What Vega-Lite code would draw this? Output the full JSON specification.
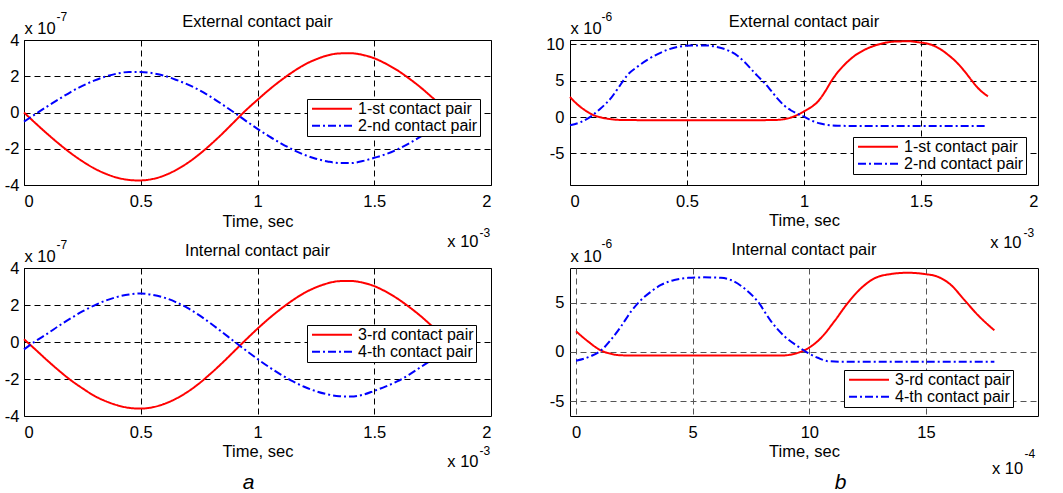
{
"$schema": "https://vega.github.io/schema/vega-lite/v6.json",
"padding": {"left": 3, "top": 9, "right": 0, "bottom": 0},
"background": "#ffffff",
"config": {
 "font": "Liberation Sans",
 "view": {"stroke": "#000", "strokeWidth": 1},
 "axis": {"domain": false, "ticks": false, "labelFontSize": 16.5, "titleFontSize": 16.5, "titleFontWeight": "normal", "labelColor": "#000", "titleColor": "#000", "gridColor": "#000", "gridDash": [6, 4], "gridWidth": 1, "gridOpacity": 1, "labelFont": "Liberation Sans", "titleFont": "Liberation Sans"},
 "title": {"fontSize": 16.5, "fontWeight": "normal", "color": "#000", "font": "Liberation Sans", "frame": "group", "baseline": "alphabetic", "offset": -20.5},
 "legend": {"padding": 2, "strokeColor": "#000", "fillColor": "#fff", "symbolType": "stroke", "symbolSize": 1600, "symbolStrokeWidth": 2, "labelFontSize": 16, "labelOffset": 5, "rowPadding": 0, "clipHeight": 15.5, "labelLimit": 300, "symbolOffset": 2, "labelColor": "#000", "labelFont": "Liberation Sans", "cornerRadius": 0}
},
"datasets": {
 "ea": [
  {"t":0,"v":0,"s":"1-st contact pair"},{"t":0.05,"v":-0.6,"s":"1-st contact pair"},{"t":0.1,"v":-1.18,"s":"1-st contact pair"},{"t":0.15,"v":-1.73,"s":"1-st contact pair"},{"t":0.2,"v":-2.24,"s":"1-st contact pair"},{"t":0.25,"v":-2.69,"s":"1-st contact pair"},{"t":0.3,"v":-3.08,"s":"1-st contact pair"},{"t":0.35,"v":-3.38,"s":"1-st contact pair"},{"t":0.4,"v":-3.6,"s":"1-st contact pair"},{"t":0.45,"v":-3.72,"s":"1-st contact pair"},{"t":0.49,"v":-3.75,"s":"1-st contact pair"},{"t":0.55,"v":-3.67,"s":"1-st contact pair"},{"t":0.6,"v":-3.48,"s":"1-st contact pair"},{"t":0.65,"v":-3.18,"s":"1-st contact pair"},{"t":0.7,"v":-2.79,"s":"1-st contact pair"},{"t":0.75,"v":-2.31,"s":"1-st contact pair"},{"t":0.8,"v":-1.76,"s":"1-st contact pair"},{"t":0.85,"v":-1.16,"s":"1-st contact pair"},{"t":0.9,"v":-0.52,"s":"1-st contact pair"},{"t":0.95,"v":0.12,"s":"1-st contact pair"},{"t":1.0,"v":0.7,"s":"1-st contact pair"},{"t":1.05,"v":1.26,"s":"1-st contact pair"},{"t":1.1,"v":1.77,"s":"1-st contact pair"},{"t":1.15,"v":2.23,"s":"1-st contact pair"},{"t":1.2,"v":2.63,"s":"1-st contact pair"},{"t":1.25,"v":2.93,"s":"1-st contact pair"},{"t":1.3,"v":3.15,"s":"1-st contact pair"},{"t":1.35,"v":3.26,"s":"1-st contact pair"},{"t":1.4,"v":3.27,"s":"1-st contact pair"},{"t":1.45,"v":3.18,"s":"1-st contact pair"},{"t":1.5,"v":2.99,"s":"1-st contact pair"},{"t":1.55,"v":2.69,"s":"1-st contact pair"},{"t":1.6,"v":2.32,"s":"1-st contact pair"},{"t":1.65,"v":1.87,"s":"1-st contact pair"},{"t":1.7,"v":1.37,"s":"1-st contact pair"},{"t":1.75,"v":0.81,"s":"1-st contact pair"},{"t":1.78,"v":0.47,"s":"1-st contact pair"},
  {"t":0,"v":-0.5,"s":"2-nd contact pair"},{"t":0.05,"v":-0.08,"s":"2-nd contact pair"},{"t":0.1,"v":0.34,"s":"2-nd contact pair"},{"t":0.15,"v":0.74,"s":"2-nd contact pair"},{"t":0.2,"v":1.13,"s":"2-nd contact pair"},{"t":0.25,"v":1.47,"s":"2-nd contact pair"},{"t":0.3,"v":1.76,"s":"2-nd contact pair"},{"t":0.35,"v":1.99,"s":"2-nd contact pair"},{"t":0.4,"v":2.15,"s":"2-nd contact pair"},{"t":0.45,"v":2.24,"s":"2-nd contact pair"},{"t":0.5,"v":2.24,"s":"2-nd contact pair"},{"t":0.55,"v":2.17,"s":"2-nd contact pair"},{"t":0.6,"v":2.03,"s":"2-nd contact pair"},{"t":0.65,"v":1.81,"s":"2-nd contact pair"},{"t":0.7,"v":1.55,"s":"2-nd contact pair"},{"t":0.75,"v":1.24,"s":"2-nd contact pair"},{"t":0.8,"v":0.86,"s":"2-nd contact pair"},{"t":0.85,"v":0.44,"s":"2-nd contact pair"},{"t":0.9,"v":0.0,"s":"2-nd contact pair"},{"t":0.95,"v":-0.46,"s":"2-nd contact pair"},{"t":1.0,"v":-0.9,"s":"2-nd contact pair"},{"t":1.05,"v":-1.32,"s":"2-nd contact pair"},{"t":1.1,"v":-1.7,"s":"2-nd contact pair"},{"t":1.15,"v":-2.04,"s":"2-nd contact pair"},{"t":1.2,"v":-2.33,"s":"2-nd contact pair"},{"t":1.25,"v":-2.55,"s":"2-nd contact pair"},{"t":1.3,"v":-2.7,"s":"2-nd contact pair"},{"t":1.35,"v":-2.79,"s":"2-nd contact pair"},{"t":1.4,"v":-2.79,"s":"2-nd contact pair"},{"t":1.45,"v":-2.68,"s":"2-nd contact pair"},{"t":1.5,"v":-2.5,"s":"2-nd contact pair"},{"t":1.55,"v":-2.3,"s":"2-nd contact pair"},{"t":1.6,"v":-2.03,"s":"2-nd contact pair"},{"t":1.65,"v":-1.7,"s":"2-nd contact pair"},{"t":1.7,"v":-1.32,"s":"2-nd contact pair"},{"t":1.75,"v":-0.92,"s":"2-nd contact pair"},{"t":1.78,"v":-0.68,"s":"2-nd contact pair"}
 ],
 "ia": [
  {"t":0,"v":0.15,"s":"3-rd contact pair"},{"t":0.05,"v":-0.42,"s":"3-rd contact pair"},{"t":0.1,"v":-1.0,"s":"3-rd contact pair"},{"t":0.15,"v":-1.55,"s":"3-rd contact pair"},{"t":0.2,"v":-2.06,"s":"3-rd contact pair"},{"t":0.25,"v":-2.5,"s":"3-rd contact pair"},{"t":0.3,"v":-2.9,"s":"3-rd contact pair"},{"t":0.35,"v":-3.2,"s":"3-rd contact pair"},{"t":0.4,"v":-3.42,"s":"3-rd contact pair"},{"t":0.45,"v":-3.56,"s":"3-rd contact pair"},{"t":0.5,"v":-3.6,"s":"3-rd contact pair"},{"t":0.55,"v":-3.53,"s":"3-rd contact pair"},{"t":0.6,"v":-3.35,"s":"3-rd contact pair"},{"t":0.65,"v":-3.07,"s":"3-rd contact pair"},{"t":0.7,"v":-2.7,"s":"3-rd contact pair"},{"t":0.75,"v":-2.24,"s":"3-rd contact pair"},{"t":0.8,"v":-1.7,"s":"3-rd contact pair"},{"t":0.85,"v":-1.12,"s":"3-rd contact pair"},{"t":0.9,"v":-0.5,"s":"3-rd contact pair"},{"t":0.95,"v":0.12,"s":"3-rd contact pair"},{"t":1.0,"v":0.72,"s":"3-rd contact pair"},{"t":1.05,"v":1.28,"s":"3-rd contact pair"},{"t":1.1,"v":1.79,"s":"3-rd contact pair"},{"t":1.15,"v":2.25,"s":"3-rd contact pair"},{"t":1.2,"v":2.65,"s":"3-rd contact pair"},{"t":1.25,"v":2.95,"s":"3-rd contact pair"},{"t":1.3,"v":3.17,"s":"3-rd contact pair"},{"t":1.35,"v":3.29,"s":"3-rd contact pair"},{"t":1.4,"v":3.3,"s":"3-rd contact pair"},{"t":1.45,"v":3.21,"s":"3-rd contact pair"},{"t":1.5,"v":3.02,"s":"3-rd contact pair"},{"t":1.55,"v":2.72,"s":"3-rd contact pair"},{"t":1.6,"v":2.34,"s":"3-rd contact pair"},{"t":1.65,"v":1.89,"s":"3-rd contact pair"},{"t":1.7,"v":1.39,"s":"3-rd contact pair"},{"t":1.75,"v":0.83,"s":"3-rd contact pair"},{"t":1.78,"v":0.5,"s":"3-rd contact pair"},
  {"t":0,"v":-0.4,"s":"4-th contact pair"},{"t":0.05,"v":0.05,"s":"4-th contact pair"},{"t":0.1,"v":0.45,"s":"4-th contact pair"},{"t":0.15,"v":0.88,"s":"4-th contact pair"},{"t":0.2,"v":1.28,"s":"4-th contact pair"},{"t":0.25,"v":1.65,"s":"4-th contact pair"},{"t":0.3,"v":1.97,"s":"4-th contact pair"},{"t":0.35,"v":2.24,"s":"4-th contact pair"},{"t":0.4,"v":2.44,"s":"4-th contact pair"},{"t":0.45,"v":2.57,"s":"4-th contact pair"},{"t":0.5,"v":2.62,"s":"4-th contact pair"},{"t":0.55,"v":2.55,"s":"4-th contact pair"},{"t":0.6,"v":2.4,"s":"4-th contact pair"},{"t":0.65,"v":2.16,"s":"4-th contact pair"},{"t":0.7,"v":1.84,"s":"4-th contact pair"},{"t":0.75,"v":1.45,"s":"4-th contact pair"},{"t":0.8,"v":1.0,"s":"4-th contact pair"},{"t":0.85,"v":0.52,"s":"4-th contact pair"},{"t":0.9,"v":0.03,"s":"4-th contact pair"},{"t":0.95,"v":-0.45,"s":"4-th contact pair"},{"t":1.0,"v":-0.92,"s":"4-th contact pair"},{"t":1.05,"v":-1.36,"s":"4-th contact pair"},{"t":1.1,"v":-1.76,"s":"4-th contact pair"},{"t":1.15,"v":-2.12,"s":"4-th contact pair"},{"t":1.2,"v":-2.42,"s":"4-th contact pair"},{"t":1.25,"v":-2.66,"s":"4-th contact pair"},{"t":1.3,"v":-2.83,"s":"4-th contact pair"},{"t":1.35,"v":-2.93,"s":"4-th contact pair"},{"t":1.4,"v":-2.95,"s":"4-th contact pair"},{"t":1.45,"v":-2.86,"s":"4-th contact pair"},{"t":1.5,"v":-2.64,"s":"4-th contact pair"},{"t":1.55,"v":-2.4,"s":"4-th contact pair"},{"t":1.6,"v":-2.12,"s":"4-th contact pair"},{"t":1.65,"v":-1.76,"s":"4-th contact pair"},{"t":1.7,"v":-1.35,"s":"4-th contact pair"},{"t":1.75,"v":-0.94,"s":"4-th contact pair"},{"t":1.78,"v":-0.7,"s":"4-th contact pair"}
 ],
 "eb": [
  {"t":0,"v":2.75,"s":"1-st contact pair"},{"t":0.033,"v":1.7,"s":"1-st contact pair"},{"t":0.061,"v":1.01,"s":"1-st contact pair"},{"t":0.09,"v":0.42,"s":"1-st contact pair"},{"t":0.125,"v":0.0,"s":"1-st contact pair"},{"t":0.161,"v":-0.23,"s":"1-st contact pair"},{"t":0.197,"v":-0.37,"s":"1-st contact pair"},{"t":0.25,"v":-0.42,"s":"1-st contact pair"},{"t":0.4,"v":-0.43,"s":"1-st contact pair"},{"t":0.6,"v":-0.43,"s":"1-st contact pair"},{"t":0.8,"v":-0.43,"s":"1-st contact pair"},{"t":0.88,"v":-0.4,"s":"1-st contact pair"},{"t":0.93,"v":-0.2,"s":"1-st contact pair"},{"t":0.96,"v":0.12,"s":"1-st contact pair"},{"t":1.0,"v":0.78,"s":"1-st contact pair"},{"t":1.03,"v":1.35,"s":"1-st contact pair"},{"t":1.06,"v":2.16,"s":"1-st contact pair"},{"t":1.09,"v":3.5,"s":"1-st contact pair"},{"t":1.116,"v":4.9,"s":"1-st contact pair"},{"t":1.145,"v":6.2,"s":"1-st contact pair"},{"t":1.173,"v":7.2,"s":"1-st contact pair"},{"t":1.215,"v":8.4,"s":"1-st contact pair"},{"t":1.26,"v":9.27,"s":"1-st contact pair"},{"t":1.3,"v":9.8,"s":"1-st contact pair"},{"t":1.344,"v":10.2,"s":"1-st contact pair"},{"t":1.4,"v":10.4,"s":"1-st contact pair"},{"t":1.45,"v":10.42,"s":"1-st contact pair"},{"t":1.487,"v":10.3,"s":"1-st contact pair"},{"t":1.544,"v":9.95,"s":"1-st contact pair"},{"t":1.58,"v":9.4,"s":"1-st contact pair"},{"t":1.615,"v":8.58,"s":"1-st contact pair"},{"t":1.65,"v":7.6,"s":"1-st contact pair"},{"t":1.686,"v":6.3,"s":"1-st contact pair"},{"t":1.715,"v":5.1,"s":"1-st contact pair"},{"t":1.743,"v":4.0,"s":"1-st contact pair"},{"t":1.786,"v":2.85,"s":"1-st contact pair"},
  {"t":0,"v":-1.14,"s":"2-nd contact pair"},{"t":0.047,"v":-0.68,"s":"2-nd contact pair"},{"t":0.09,"v":0.1,"s":"2-nd contact pair"},{"t":0.133,"v":1.24,"s":"2-nd contact pair"},{"t":0.175,"v":2.61,"s":"2-nd contact pair"},{"t":0.211,"v":4.22,"s":"2-nd contact pair"},{"t":0.247,"v":5.83,"s":"2-nd contact pair"},{"t":0.29,"v":6.97,"s":"2-nd contact pair"},{"t":0.332,"v":7.9,"s":"2-nd contact pair"},{"t":0.375,"v":8.67,"s":"2-nd contact pair"},{"t":0.418,"v":9.27,"s":"2-nd contact pair"},{"t":0.468,"v":9.7,"s":"2-nd contact pair"},{"t":0.52,"v":9.85,"s":"2-nd contact pair"},{"t":0.58,"v":9.85,"s":"2-nd contact pair"},{"t":0.62,"v":9.7,"s":"2-nd contact pair"},{"t":0.646,"v":9.5,"s":"2-nd contact pair"},{"t":0.68,"v":9.1,"s":"2-nd contact pair"},{"t":0.717,"v":8.4,"s":"2-nd contact pair"},{"t":0.745,"v":7.6,"s":"2-nd contact pair"},{"t":0.774,"v":6.6,"s":"2-nd contact pair"},{"t":0.8,"v":5.7,"s":"2-nd contact pair"},{"t":0.831,"v":4.7,"s":"2-nd contact pair"},{"t":0.86,"v":3.6,"s":"2-nd contact pair"},{"t":0.888,"v":2.5,"s":"2-nd contact pair"},{"t":0.915,"v":1.6,"s":"2-nd contact pair"},{"t":0.945,"v":0.9,"s":"2-nd contact pair"},{"t":0.975,"v":0.4,"s":"2-nd contact pair"},{"t":1.0,"v":0.05,"s":"2-nd contact pair"},{"t":1.02,"v":-0.3,"s":"2-nd contact pair"},{"t":1.045,"v":-0.65,"s":"2-nd contact pair"},{"t":1.07,"v":-0.9,"s":"2-nd contact pair"},{"t":1.1,"v":-1.1,"s":"2-nd contact pair"},{"t":1.145,"v":-1.2,"s":"2-nd contact pair"},{"t":1.2,"v":-1.22,"s":"2-nd contact pair"},{"t":1.4,"v":-1.22,"s":"2-nd contact pair"},{"t":1.6,"v":-1.22,"s":"2-nd contact pair"},{"t":1.78,"v":-1.22,"s":"2-nd contact pair"}
 ],
 "ib": [
  {"t":0,"v":2.08,"s":"3-rd contact pair"},{"t":0.5,"v":1.08,"s":"3-rd contact pair"},{"t":1.07,"v":0.14,"s":"3-rd contact pair"},{"t":1.5,"v":-0.2,"s":"3-rd contact pair"},{"t":1.8,"v":-0.33,"s":"3-rd contact pair"},{"t":2.5,"v":-0.38,"s":"3-rd contact pair"},{"t":5,"v":-0.38,"s":"3-rd contact pair"},{"t":8,"v":-0.38,"s":"3-rd contact pair"},{"t":8.9,"v":-0.36,"s":"3-rd contact pair"},{"t":9.5,"v":-0.1,"s":"3-rd contact pair"},{"t":9.93,"v":0.34,"s":"3-rd contact pair"},{"t":10.5,"v":1.41,"s":"3-rd contact pair"},{"t":11.07,"v":3.09,"s":"3-rd contact pair"},{"t":11.64,"v":4.93,"s":"3-rd contact pair"},{"t":12.21,"v":6.44,"s":"3-rd contact pair"},{"t":12.79,"v":7.45,"s":"3-rd contact pair"},{"t":13.5,"v":7.89,"s":"3-rd contact pair"},{"t":14.21,"v":8.02,"s":"3-rd contact pair"},{"t":14.93,"v":7.89,"s":"3-rd contact pair"},{"t":15.5,"v":7.62,"s":"3-rd contact pair"},{"t":16.07,"v":6.78,"s":"3-rd contact pair"},{"t":16.64,"v":5.27,"s":"3-rd contact pair"},{"t":17.21,"v":3.76,"s":"3-rd contact pair"},{"t":17.93,"v":2.18,"s":"3-rd contact pair"},
  {"t":0,"v":-0.9,"s":"4-th contact pair"},{"t":0.64,"v":-0.43,"s":"4-th contact pair"},{"t":1.07,"v":0.14,"s":"4-th contact pair"},{"t":1.5,"v":1.25,"s":"4-th contact pair"},{"t":1.93,"v":2.59,"s":"4-th contact pair"},{"t":2.36,"v":4.1,"s":"4-th contact pair"},{"t":2.79,"v":5.27,"s":"4-th contact pair"},{"t":3.21,"v":6.1,"s":"4-th contact pair"},{"t":3.64,"v":6.78,"s":"4-th contact pair"},{"t":4.21,"v":7.28,"s":"4-th contact pair"},{"t":4.8,"v":7.5,"s":"4-th contact pair"},{"t":5.5,"v":7.55,"s":"4-th contact pair"},{"t":6.21,"v":7.5,"s":"4-th contact pair"},{"t":6.64,"v":7.28,"s":"4-th contact pair"},{"t":7.21,"v":6.44,"s":"4-th contact pair"},{"t":7.79,"v":5.1,"s":"4-th contact pair"},{"t":8.36,"v":3.09,"s":"4-th contact pair"},{"t":8.93,"v":1.58,"s":"4-th contact pair"},{"t":9.5,"v":0.57,"s":"4-th contact pair"},{"t":9.93,"v":-0.1,"s":"4-th contact pair"},{"t":10.36,"v":-0.6,"s":"4-th contact pair"},{"t":10.79,"v":-0.94,"s":"4-th contact pair"},{"t":11.5,"v":-1.0,"s":"4-th contact pair"},{"t":14,"v":-1.0,"s":"4-th contact pair"},{"t":17.93,"v":-1.0,"s":"4-th contact pair"}
 ]
},
"bounds": "flush",
"columns": 2,
"spacing": {"row": 83, "column": 79},
"resolve": {"scale": {"color": "independent", "strokeDash": "independent"}, "legend": {"color": "independent", "strokeDash": "independent"}},
"concat": [
   {
    "width": 467, "height": 145,
    "data": {"name": "ea"},
    "title": {"text": "External contact pair"},
    "resolve": {"axis": {"x": "independent", "y": "independent"}},
    "layer": [
     {
      "mark": {"type": "line", "strokeWidth": 2, "interpolate": "monotone"},
      "encoding": {
       "x": {"field": "t", "type": "quantitative", "scale": {"domain": [0, 2], "nice": false, "zero": false}, "axis": {"values": [0, 0.5, 1, 1.5, 2], "labelExpr": "'' + datum.value", "labelPadding": 8, "grid": true, "title": "Time, sec", "titleY": 41, "titleBaseline": "alphabetic"}},
       "y": {"field": "v", "type": "quantitative", "scale": {"domain": [-4, 4], "nice": false, "zero": false}, "axis": {"values": [-4, -2, 0, 2, 4], "labelExpr": "'' + datum.value", "labelPadding": 5, "grid": true, "title": "x 10", "titleAngle": 0, "titleX": 0, "titleY": -6.5, "titleAlign": "left", "titleBaseline": "alphabetic"}},
       "color": {"field": "s", "type": "nominal", "scale": {"domain": ["1-st contact pair", "2-nd contact pair"], "range": ["#ff0000", "#0000ff"]}, "legend": {"orient": "none", "legendX": 283, "legendY": 59, "title": null}},
       "strokeDash": {"field": "s", "type": "nominal", "scale": {"domain": ["1-st contact pair", "2-nd contact pair"], "range": [[1, 0], [8, 3, 2, 3]]}, "legend": {"orient": "none", "legendX": 283, "legendY": 59, "title": null}}
      }
     },
     {
      "mark": {"type": "point", "opacity": 0},
      "encoding": {
       "x": {"field": "t", "type": "quantitative", "scale": {"domain": [0, 2], "nice": false, "zero": false}, "axis": {"orient": "bottom", "labels": false, "grid": false, "title": "x 10", "titleX": 454, "titleY": 61, "titleAlign": "right", "titleBaseline": "alphabetic"}},
       "y": {"field": "v", "type": "quantitative", "scale": {"domain": [-4, 4], "nice": false, "zero": false}, "axis": {"orient": "left", "labels": false, "grid": false, "title": "-7", "titleAngle": 0, "titleX": 32, "titleY": -20, "titleAlign": "left", "titleBaseline": "alphabetic", "titleFontSize": 12}}
      }
     },
     {
      "mark": {"type": "point", "opacity": 0},
      "encoding": {
       "x": {"field": "t", "type": "quantitative", "scale": {"domain": [0, 2], "nice": false, "zero": false}, "axis": {"orient": "bottom", "labels": false, "grid": false, "title": "-3", "titleX": 455, "titleY": 51, "titleAlign": "left", "titleBaseline": "alphabetic", "titleFontSize": 12}},
       "y": {"field": "v", "type": "quantitative", "scale": {"domain": [-4, 4], "nice": false, "zero": false}, "axis": null}
      }
     }
    ]
   },
   {
    "width": 468, "height": 145,
    "data": {"name": "eb"},
    "title": {"text": "External contact pair"},
    "resolve": {"axis": {"x": "independent", "y": "independent"}},
    "layer": [
     {
      "mark": {"type": "line", "strokeWidth": 2, "interpolate": "monotone"},
      "encoding": {
       "x": {"field": "t", "type": "quantitative", "scale": {"domain": [0, 2], "nice": false, "zero": false}, "axis": {"values": [0, 0.5, 1, 1.5, 2], "labelExpr": "'' + datum.value", "labelPadding": 8, "grid": true, "title": "Time, sec", "titleY": 40, "titleBaseline": "alphabetic"}},
       "y": {"field": "v", "type": "quantitative", "scale": {"domain": [-9.35, 10.6], "nice": false, "zero": false}, "axis": {"values": [-5, 0, 5, 10], "labelExpr": "'' + datum.value", "labelPadding": 6, "grid": true, "title": "x 10", "titleAngle": 0, "titleX": 0, "titleY": -7, "titleAlign": "left", "titleBaseline": "alphabetic"}},
       "color": {"field": "s", "type": "nominal", "scale": {"domain": ["1-st contact pair", "2-nd contact pair"], "range": ["#ff0000", "#0000ff"]}, "legend": {"orient": "none", "legendX": 283, "legendY": 97, "title": null}},
       "strokeDash": {"field": "s", "type": "nominal", "scale": {"domain": ["1-st contact pair", "2-nd contact pair"], "range": [[1, 0], [8, 3, 2, 3]]}, "legend": {"orient": "none", "legendX": 283, "legendY": 97, "title": null}}
      }
     },
     {
      "mark": {"type": "point", "opacity": 0},
      "encoding": {
       "x": {"field": "t", "type": "quantitative", "scale": {"domain": [0, 2], "nice": false, "zero": false}, "axis": {"orient": "bottom", "labels": false, "grid": false, "title": "x 10", "titleX": 451, "titleY": 62, "titleAlign": "right", "titleBaseline": "alphabetic"}},
       "y": {"field": "v", "type": "quantitative", "scale": {"domain": [-9.35, 10.6], "nice": false, "zero": false}, "axis": {"orient": "left", "labels": false, "grid": false, "title": "-6", "titleAngle": 0, "titleX": 31, "titleY": -20, "titleAlign": "left", "titleBaseline": "alphabetic", "titleFontSize": 12}}
      }
     },
     {
      "mark": {"type": "point", "opacity": 0},
      "encoding": {
       "x": {"field": "t", "type": "quantitative", "scale": {"domain": [0, 2], "nice": false, "zero": false}, "axis": {"orient": "bottom", "labels": false, "grid": false, "title": "-3", "titleX": 453, "titleY": 51, "titleAlign": "left", "titleBaseline": "alphabetic", "titleFontSize": 12}},
       "y": {"field": "v", "type": "quantitative", "scale": {"domain": [-9.35, 10.6], "nice": false, "zero": false}, "axis": null}
      }
     }
    ]
   },
   {
    "width": 467, "height": 148,
    "data": {"name": "ia"},
    "title": {"text": "Internal contact pair"},
    "resolve": {"axis": {"x": "independent", "y": "independent"}},
    "layer": [
     {
      "mark": {"type": "line", "strokeWidth": 2, "interpolate": "monotone"},
      "encoding": {
       "x": {"field": "t", "type": "quantitative", "scale": {"domain": [0, 2], "nice": false, "zero": false}, "axis": {"values": [0, 0.5, 1, 1.5, 2], "labelExpr": "'' + datum.value", "labelPadding": 8, "grid": true, "title": "Time, sec", "titleY": 40, "titleBaseline": "alphabetic"}},
       "y": {"field": "v", "type": "quantitative", "scale": {"domain": [-4, 4], "nice": false, "zero": false}, "axis": {"values": [-4, -2, 0, 2, 4], "labelExpr": "'' + datum.value", "labelPadding": 5, "grid": true, "title": "x 10", "titleAngle": 0, "titleX": 0, "titleY": -7, "titleAlign": "left", "titleBaseline": "alphabetic"}},
       "color": {"field": "s", "type": "nominal", "scale": {"domain": ["3-rd contact pair", "4-th contact pair"], "range": ["#ff0000", "#0000ff"]}, "legend": {"orient": "none", "legendX": 283, "legendY": 57, "title": null}},
       "strokeDash": {"field": "s", "type": "nominal", "scale": {"domain": ["3-rd contact pair", "4-th contact pair"], "range": [[1, 0], [8, 3, 2, 3]]}, "legend": {"orient": "none", "legendX": 283, "legendY": 57, "title": null}}
      }
     },
     {
      "mark": {"type": "point", "opacity": 0},
      "encoding": {
       "x": {"field": "t", "type": "quantitative", "scale": {"domain": [0, 2], "nice": false, "zero": false}, "axis": {"orient": "bottom", "labels": false, "grid": false, "title": "x 10", "titleX": 454, "titleY": 50, "titleAlign": "right", "titleBaseline": "alphabetic"}},
       "y": {"field": "v", "type": "quantitative", "scale": {"domain": [-4, 4], "nice": false, "zero": false}, "axis": {"orient": "left", "labels": false, "grid": false, "title": "-7", "titleAngle": 0, "titleX": 32, "titleY": -19.5, "titleAlign": "left", "titleBaseline": "alphabetic", "titleFontSize": 12}}
      }
     },
     {
      "mark": {"type": "point", "opacity": 0},
      "encoding": {
       "x": {"field": "t", "type": "quantitative", "scale": {"domain": [0, 2], "nice": false, "zero": false}, "axis": {"orient": "bottom", "labels": false, "grid": false, "title": "-3", "titleX": 455, "titleY": 38.5, "titleAlign": "left", "titleBaseline": "alphabetic", "titleFontSize": 12}},
       "y": {"field": "v", "type": "quantitative", "scale": {"domain": [-4, 4], "nice": false, "zero": false}, "axis": null}
      }
     },
     {
      "mark": {"type": "point", "opacity": 0},
      "encoding": {
       "x": {"field": "t", "type": "quantitative", "scale": {"domain": [0, 2], "nice": false, "zero": false}, "axis": {"orient": "bottom", "labels": false, "grid": false, "title": "a", "titleX": 224, "titleY": 72, "titleAlign": "center", "titleBaseline": "alphabetic", "titleFontSize": 21, "titleFontStyle": "italic"}},
       "y": {"field": "v", "type": "quantitative", "scale": {"domain": [-4, 4], "nice": false, "zero": false}, "axis": null}
      }
     }
    ]
   },
   {
    "width": 468, "height": 148,
    "data": {"name": "ib"},
    "title": {"text": "Internal contact pair"},
    "resolve": {"axis": {"x": "independent", "y": "independent"}},
    "layer": [
     {
      "mark": {"type": "line", "strokeWidth": 2, "interpolate": "monotone"},
      "encoding": {
       "x": {"field": "t", "type": "quantitative", "scale": {"domain": [-0.26, 19.8], "nice": false, "zero": false}, "axis": {"values": [0, 5, 10, 15], "labelExpr": "'' + datum.value", "labelPadding": 8, "grid": true, "gridColor": "#555", "title": "Time, sec", "titleY": 40, "titleBaseline": "alphabetic"}},
       "y": {"field": "v", "type": "quantitative", "scale": {"domain": [-6.5, 8.5], "nice": false, "zero": false}, "axis": {"values": [-5, 0, 5], "labelExpr": "'' + datum.value", "labelPadding": 6, "grid": true, "gridColor": "#555", "title": "x 10", "titleAngle": 0, "titleX": 0, "titleY": -7, "titleAlign": "left", "titleBaseline": "alphabetic"}},
       "color": {"field": "s", "type": "nominal", "scale": {"domain": ["3-rd contact pair", "4-th contact pair"], "range": ["#ff0000", "#0000ff"]}, "legend": {"orient": "none", "legendX": 274, "legendY": 102, "title": null}},
       "strokeDash": {"field": "s", "type": "nominal", "scale": {"domain": ["3-rd contact pair", "4-th contact pair"], "range": [[1, 0], [8, 3, 2, 3]]}, "legend": {"orient": "none", "legendX": 274, "legendY": 102, "title": null}}
      }
     },
     {
      "mark": {"type": "point", "opacity": 0},
      "encoding": {
       "x": {"field": "t", "type": "quantitative", "scale": {"domain": [-0.26, 19.8], "nice": false, "zero": false}, "axis": {"orient": "bottom", "labels": false, "grid": false, "title": "x 10", "titleX": 452.7, "titleY": 57.7, "titleAlign": "right", "titleBaseline": "alphabetic"}},
       "y": {"field": "v", "type": "quantitative", "scale": {"domain": [-6.5, 8.5], "nice": false, "zero": false}, "axis": {"orient": "left", "labels": false, "grid": false, "title": "-6", "titleAngle": 0, "titleX": 31, "titleY": -20.5, "titleAlign": "left", "titleBaseline": "alphabetic", "titleFontSize": 12}}
      }
     },
     {
      "mark": {"type": "point", "opacity": 0},
      "encoding": {
       "x": {"field": "t", "type": "quantitative", "scale": {"domain": [-0.26, 19.8], "nice": false, "zero": false}, "axis": {"orient": "bottom", "labels": false, "grid": false, "title": "-4", "titleX": 454, "titleY": 41.7, "titleAlign": "left", "titleBaseline": "alphabetic", "titleFontSize": 12}},
       "y": {"field": "v", "type": "quantitative", "scale": {"domain": [-6.5, 8.5], "nice": false, "zero": false}, "axis": null}
      }
     },
     {
      "mark": {"type": "point", "opacity": 0},
      "encoding": {
       "x": {"field": "t", "type": "quantitative", "scale": {"domain": [-0.26, 19.8], "nice": false, "zero": false}, "axis": {"orient": "bottom", "labels": false, "grid": false, "title": "b", "titleX": 270, "titleY": 72, "titleAlign": "center", "titleBaseline": "alphabetic", "titleFontSize": 21, "titleFontStyle": "italic"}},
       "y": {"field": "v", "type": "quantitative", "scale": {"domain": [-6.5, 8.5], "nice": false, "zero": false}, "axis": null}
      }
     }
    ]
   }
]
}
